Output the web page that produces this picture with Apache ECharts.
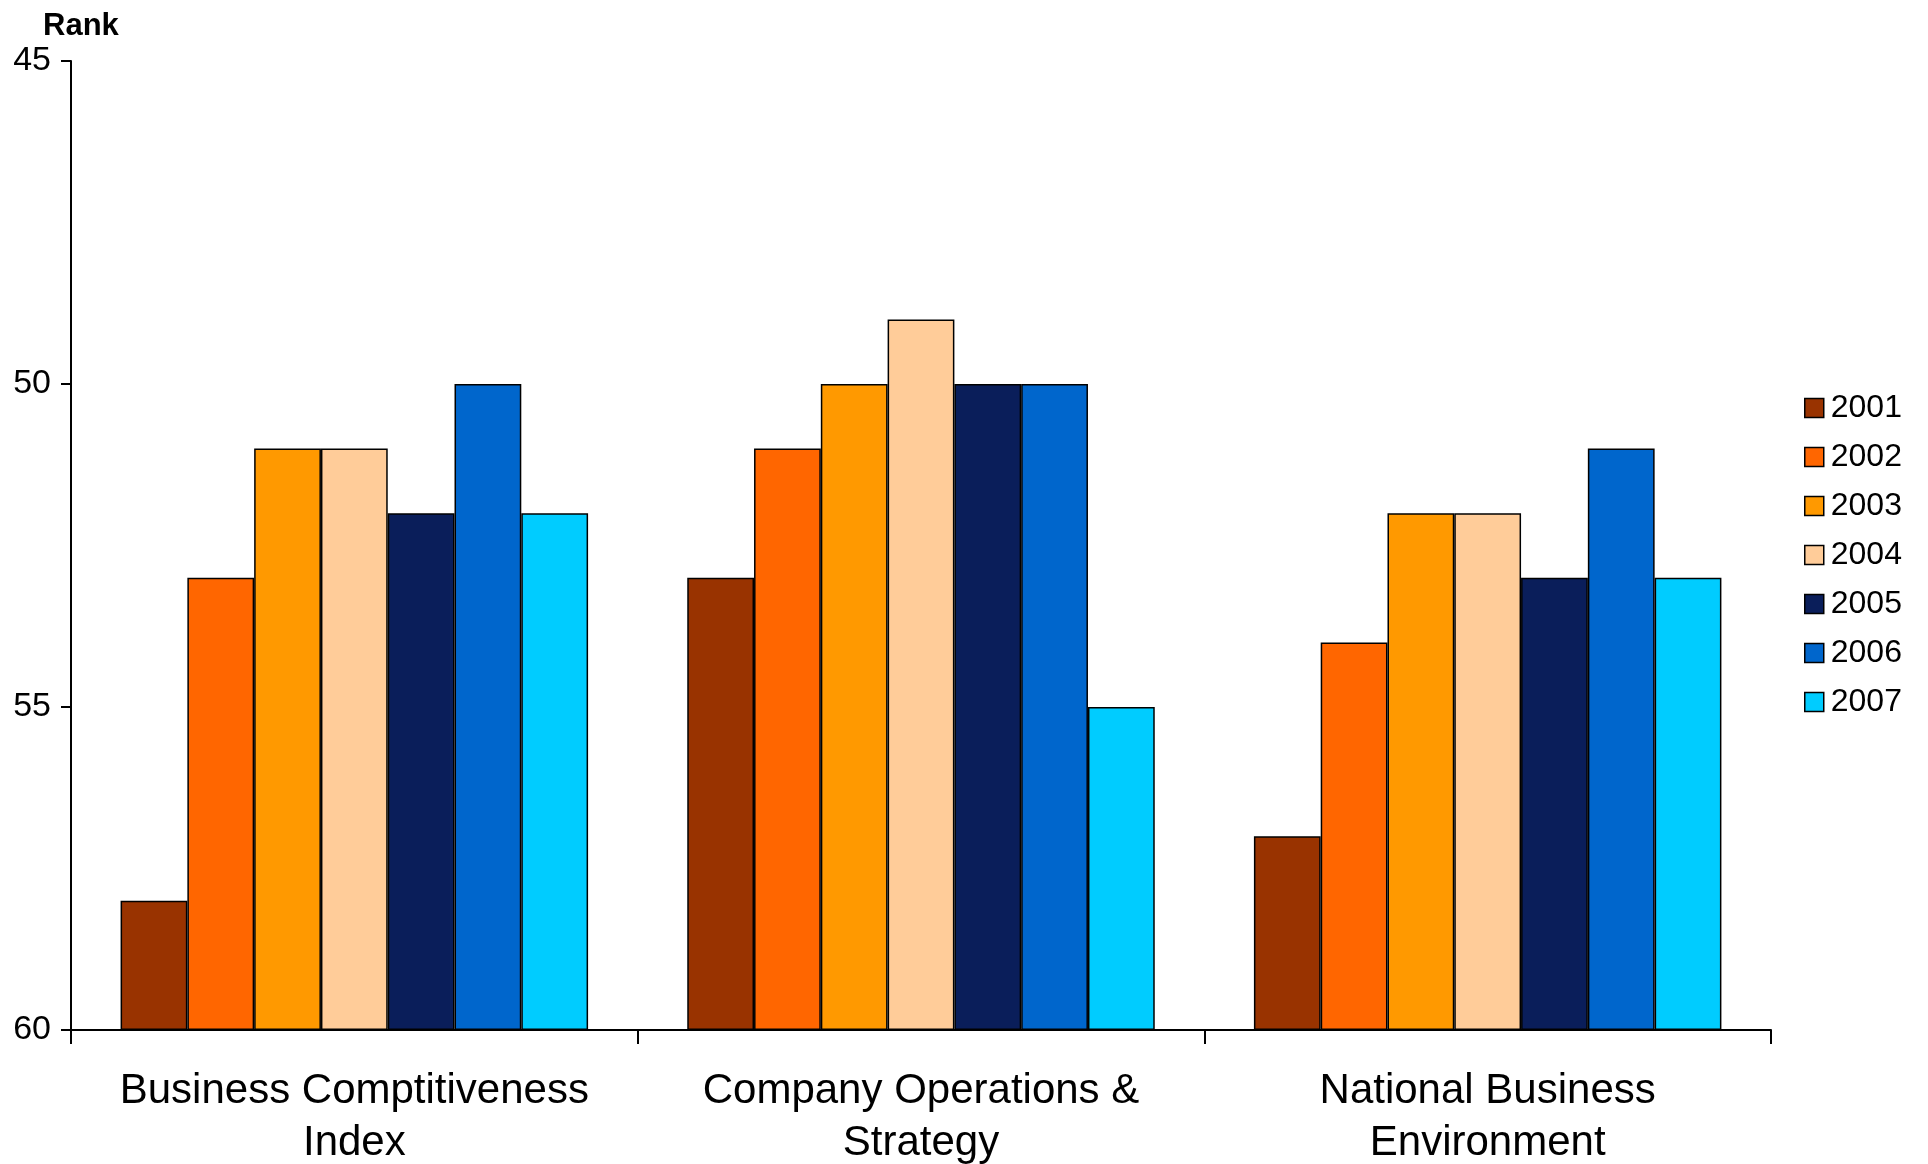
<!DOCTYPE html>
<html>
<head>
<meta charset="utf-8">
<script src="https://cdn.jsdelivr.net/npm/echarts@6/dist/echarts.min.js"></script>
<style>
html,body{margin:0;padding:0;background:#fff;}
#chart{width:1928px;height:1164px;}
</style>
</head>
<body>
<div id="chart"></div>
<script>
var categories = ['Business Comptitiveness\nIndex', 'Company Operations &\nStrategy', 'National Business\nEnvironment'];
var years = ['2001', '2002', '2003', '2004', '2005', '2006', '2007'];
var rank2001 = [58, 53, 57];
var rank2002 = [53, 51, 54];
var rank2003 = [51, 50, 52];
var rank2004 = [51, 49, 52];
var rank2005 = [52, 50, 53];
var rank2006 = [50, 50, 51];
var rank2007 = [52, 55, 53];
var yTicks = [45, 50, 55, 60];

var colors = ['#993300', '#FF6600', '#FF9900', '#FFCC99', '#0A1E5A', '#0066CC', '#00CCFF'];
var seriesData = [rank2001, rank2002, rank2003, rank2004, rank2005, rank2006, rank2007];
var FONT = '"Liberation Sans", Arial, sans-serif';

var chart = echarts.init(document.getElementById('chart'));
chart.setOption({
  animation: false,
  color: colors,
  title: {
    text: 'Rank', left: 38, top: 6,
    textStyle: { fontFamily: FONT, fontSize: 31, fontWeight: 'bold', color: '#000' }
  },
  legend: {
    orient: 'vertical', left: 1799, top: 387,
    itemWidth: 19, itemHeight: 19, itemGap: 17,
    icon: 'rect',
    itemStyle: { borderColor: '#000', borderWidth: 1.5 },
    textStyle: { fontFamily: FONT, fontSize: 32, color: '#000', lineHeight: 31, padding: [0, 0, 0, 2] },
    data: years
  },
  grid: { left: 71, right: 157, top: 61, bottom: 134, containLabel: false, outerBoundsMode: 'none' },
  xAxis: {
    type: 'category', data: categories,
    axisLine: { lineStyle: { color: '#000', width: 2 } },
    axisTick: { show: true, interval: 0, length: 14, lineStyle: { color: '#000', width: 2 } },
    axisLabel: { interval: 0, hideOverlap: false, fontFamily: FONT, fontSize: 42, color: '#000', margin: 35, lineHeight: 52 }
  },
  yAxis: {
    type: 'value', inverse: true, min: 45, max: 60, interval: 5, startValue: 60,
    axisLine: { show: true, lineStyle: { color: '#000', width: 2 } },
    axisTick: { show: true, length: 10, lineStyle: { color: '#000', width: 2 } },
    splitLine: { show: false },
    axisLabel: { fontFamily: FONT, fontSize: 34, color: '#000', margin: 20,
      customValues: yTicks }
  },
  series: years.map(function (y, i) {
    return {
      name: y, type: 'bar', data: seriesData[i],
      barGap: '0%', barCategoryGap: '17.5%',
      itemStyle: { color: colors[i], borderColor: '#000', borderWidth: 1.5 }
    };
  })
});
</script>
</body>
</html>
